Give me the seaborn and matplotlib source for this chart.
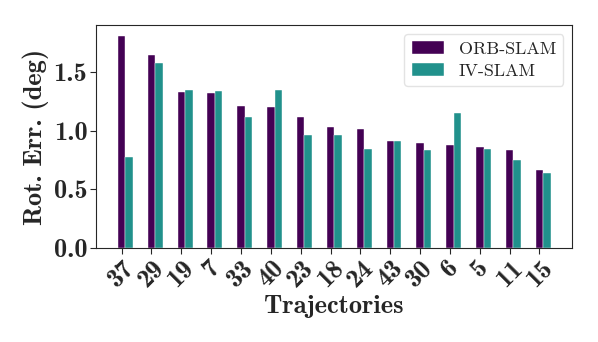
import pandas as pd
import numpy as np
import matplotlib
matplotlib.use('Agg')
import matplotlib.pyplot as plt
import seaborn as sns

# Data
trajectories = ['37', '29', '19', '7', '33', '40', '23', '18', '24', '43', '30', '6', '5', '11', '15']
orb_slam = [1.81, 1.645, 1.325, 1.32, 1.21, 1.20, 1.115, 1.03, 1.01, 0.91, 0.89, 0.88, 0.86, 0.835, 0.665]
iv_slam = [0.775, 1.58, 1.35, 1.335, 1.115, 1.345, 0.96, 0.96, 0.845, 0.91, 0.835, 1.15, 0.84, 0.75, 0.64]
methods = ['ORB-SLAM', 'IV-SLAM']
colors = ['#440154', '#21918c']

df = pd.DataFrame({
    'Trajectory': trajectories * 2,
    'Method': [methods[0]] * len(trajectories) + [methods[1]] * len(trajectories),
    'Error': orb_slam + iv_slam,
})

sns.set_style('ticks')
plt.rcParams['font.family'] = 'serif'
plt.rcParams['font.serif'] = ['cmr10', 'DejaVu Serif']
plt.rcParams['axes.unicode_minus'] = False

fig, ax = plt.subplots(figsize=(5.98, 3.42), dpi=100)
sns.barplot(data=df, x='Trajectory', y='Error', hue='Method', order=trajectories,
            hue_order=methods, palette=colors, width=0.5, saturation=1,
            edgecolor='white', linewidth=0.3, ax=ax)

bold = {'family': 'cmb10', 'size': 19}
pos = np.arange(len(trajectories)) - 0.125
ax.set_xticks(pos)
ax.set_xticklabels(trajectories, rotation=45, fontdict=bold)
ax.set_yticks([0.0, 0.5, 1.0, 1.5])
ax.set_yticklabels(['0.0', '0.5', '1.0', '1.5'], fontdict=bold)
ax.set_xlim(-0.995, 14.975)
ax.set_ylim(0, 1.9)
ax.set_xlabel('Trajectories', fontdict=bold, labelpad=3)
ax.set_ylabel('Rot. Err. (deg)', fontdict=bold, labelpad=3)
ax.tick_params(axis='both', length=4, width=0.8, pad=2)
for s in ax.spines.values():
    s.set_linewidth(0.8)

leg = ax.legend(loc='upper right', prop={'family': 'cmr10', 'size': 13},
                frameon=True, fancybox=True, edgecolor='#dddddd',
                handlelength=1.8, borderpad=0.4, labelspacing=0.35)
leg.set_title(None)

fig.subplots_adjust(left=0.16, right=0.957, top=0.927, bottom=0.275)
fig.savefig('out.png', dpi=100)
